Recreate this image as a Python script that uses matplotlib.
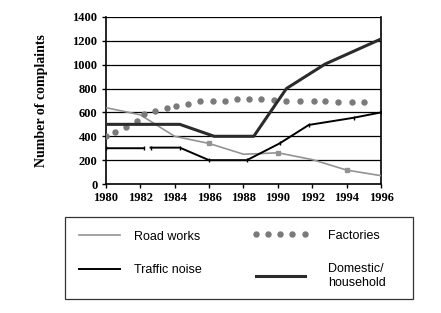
import matplotlib
matplotlib.use("Agg")
import matplotlib.pyplot as plt
from matplotlib.patches import Rectangle
import numpy as np

# data
year_ticks = [1980, 1982, 1984, 1986, 1988, 1990, 1992, 1994, 1996]
y_ticks = [0, 200, 400, 600, 800, 1000, 1200, 1400]

road_years = [1980, 1982, 1984, 1986, 1988, 1989, 1990, 1992, 1994, 1996]
road = [640, 580, 400, 340, 250, 255, 262, 205, 117, 70]

fact_years = [1980, 1980.56, 1981.2, 1981.8, 1982.2, 1982.85, 1983.55, 1984.1,
              1984.8, 1985.5, 1986.25, 1986.95, 1987.6, 1988.3, 1989.05,
              1989.75, 1990.5, 1991.3, 1992.1, 1992.75, 1993.5, 1994.3, 1995.0]
factories = [400, 440, 480, 525, 585, 615, 635, 650, 670, 697, 697, 697, 714,
             714, 714, 703, 697, 697, 697, 692, 686, 686, 686]

traffic_years = [1980, 1982.2, np.nan, 1982.6, 1984.3, 1986, 1988.2, 1990.1,
                 1991.8, 1994.4, 1996]
traffic = [300, 300, np.nan, 305, 305, 200, 200, 340, 495, 555, 600]

dom_years = [1980, 1984.3, 1986.3, 1988.6, 1990.5, 1992.75, 1996]
domestic = [500, 500, 400, 400, 800, 1005, 1215]

fig = plt.figure(figsize=(4.41, 3.13), dpi=100)
ax = fig.add_axes([0.240, 0.412, 0.624, 0.534])

ax.set_xlim(1980, 1996)
ax.set_ylim(0, 1400)
for v in y_ticks[1:]:
    ax.axhline(v, color="black", lw=0.9, zorder=1)

h_road, = ax.plot(road_years, road, color="#939393", lw=1.2,
                  label="Road works", zorder=3)
ax.plot(road_years, road, color="#939393", ls="none", marker="s", ms=2.5,
        markevery=[3, 6, 8], zorder=3)
h_fact, = ax.plot(fact_years, factories, color="#7a7a7a", ls="none", marker="o",
                  ms=3.6, label="Factories", zorder=3)
h_traf, = ax.plot(traffic_years, traffic, color="black", lw=1.4,
                  label="Traffic noise", zorder=4)
ax.plot(traffic_years, traffic, color="black", ls="none", marker="|", ms=2.5,
        zorder=4)
h_dom, = ax.plot(dom_years, domestic, color="#2b2b2b", lw=2.2,
                 label="Domestic/\nhousehold", zorder=4)

ax.set_xticks(year_ticks)
ax.set_yticks(y_ticks)
tick_font = dict(family="Liberation Serif", weight="bold", size=9)
ax.set_xticklabels([str(y) for y in year_ticks], fontdict=tick_font)
ax.set_yticklabels([str(v) for v in y_ticks], fontdict=tick_font)
ax.tick_params(length=3, width=1, pad=3)
ax.spines["top"].set_visible(False)
for s in ["left", "bottom", "right"]:
    ax.spines[s].set_linewidth(1.2)

ax.set_ylabel("Number of complaints", family="Liberation Serif",
              weight="bold", size=10, labelpad=18)

# legend box
fig.patches.append(Rectangle((65 / 441, 1 - 299 / 313), 348 / 441, 82 / 313,
                             transform=fig.transFigure, fill=False,
                             edgecolor="#333333", lw=0.9))

leg_font = dict(family="Liberation Sans", size=9)
common = dict(loc="upper left", frameon=False, prop=leg_font,
              labelspacing=1.7, borderpad=0.85, borderaxespad=0, numpoints=5)
col1 = [h_road, h_traf]
col2 = [h_fact, h_dom]
leg1 = fig.legend(handles=col1, labels=[h.get_label() for h in col1],
                  bbox_to_anchor=(65 / 441, 1 - 220 / 313),
                  handlelength=3.85, handletextpad=0.8, **common)
leg2 = fig.legend(handles=col2, labels=[h.get_label() for h in col2],
                  bbox_to_anchor=(241.5 / 441, 1 - 219 / 313),
                  handlelength=4.5, handletextpad=1.6, **common)

fig.savefig("out.png", dpi=100)
